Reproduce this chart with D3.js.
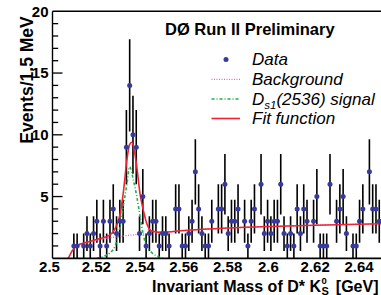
<!DOCTYPE html>
<meta charset="utf-8">
<script src="https://d3js.org/d3.v7.min.js"></script>
<style>
  body{margin:0;background:#fff;}
  text{font-family:"Liberation Sans",Arial,Helvetica,sans-serif;}
</style>
<div id="chart"></div>
<script>
// histogram: 1.5 MeV bins starting at 2.5 GeV
const massStart = 2.5, binWidth = 0.0015;
const counts = [
  0,0,0,0,0,0,1,1,0,1, 2,1,2,3,1,3,1,3,4,2,
  3,3,9,14,10,9,2,5,1,2, 3,3,1,2,2,1,0,4,4,1,
  1,2,3,7,4,2,1,1,3,0, 4,4,6,2,3,3,4,0,3,1,
  3,4,0,6,2,3,2,3,3,6, 2,1,2,1,4,2,4,3,0,3,
  5,1,1,1,6,0,3,4,5,2, 0,1,1,3,4,0,7,4,4,3
];
// curves: [mass, events]
const fitCurve = [
  [2.5072,0],[2.509,0.6],[2.511,1.0],[2.5157,1.3],[2.5217,1.6],[2.5263,1.9],
  [2.5286,2.4],[2.5309,3.6],[2.5324,5.4],[2.534,8.0],[2.5352,9.2],[2.5362,9.4],
  [2.5375,8.6],[2.5385,7.4],[2.540,5.2],[2.5416,3.8],[2.5431,2.8],[2.5454,2.2],
  [2.550,2.1],[2.560,2.25],[2.580,2.45],[2.600,2.58],[2.620,2.68],[2.650,2.8]
];
const bkgCurve = [
  [2.5072,0],[2.510,0.85],[2.515,1.2],[2.520,1.45],[2.530,1.75],[2.540,1.95],
  [2.550,2.1],[2.560,2.25],[2.580,2.45],[2.600,2.58],[2.620,2.68],[2.650,2.8]
];
const sigCurve = [
  [2.5202,0],[2.524,0.2],[2.5263,0.45],[2.5286,1.0],[2.5309,2.6],[2.5324,4.3],
  [2.534,6.0],[2.5352,7.4],[2.537,6.3],[2.5385,5.0],[2.540,3.4],[2.5416,1.8],
  [2.5431,0.95],[2.5454,0.45],[2.5484,0.12],[2.5506,0]
];
const xTicks = [2.5,2.52,2.54,2.56,2.58,2.6,2.62,2.64];
const xTickLabels = ["2.5","2.52","2.54","2.56","2.58","2.6","2.62","2.64"];
const yTicks = [5,10,15,20];
const legendLabels = ["Data","Background","signal","Fit function"];

const W = 381, H = 295;
const x = d3.scaleLinear().domain([2.5,2.65]).range([52.5,380.9]);
const y = d3.scaleLinear().domain([0,20]).range([258.3,11.3]);

const svg = d3.select("#chart").append("svg")
  .attr("width",W).attr("height",H);

svg.append("defs").append("clipPath").attr("id","plot")
  .append("rect").attr("x",52.5).attr("y",11.3).attr("width",330).attr("height",247);

const plot = svg.append("g").attr("clip-path","url(#plot)");

const line = d3.line().x(d=>x(d[0])).y(d=>y(d[1])).curve(d3.curveMonotoneX);

// data points
const bins = counts.map((c,i)=>({m:massStart+(i+0.5)*binWidth, c:c})).filter(d=>d.c>0);
plot.selectAll(".err").data(bins).join("line")
  .attr("x1",d=>x(d.m)).attr("x2",d=>x(d.m))
  .attr("y1",d=>y(Math.max(0,d.c-Math.sqrt(d.c))))
  .attr("y2",d=>y(d.c+Math.sqrt(d.c)))
  .attr("stroke","#000").attr("stroke-width",1.6);

plot.append("path").datum(bkgCurve).attr("d",line)
  .attr("fill","none").attr("stroke","#ff55c8").attr("stroke-width",1.3)
  .attr("stroke-dasharray","1,1.5");
plot.append("path").datum(sigCurve).attr("d",line)
  .attr("fill","none").attr("stroke","#1fb04a").attr("stroke-width",1.6)
  .attr("stroke-dasharray","3,2,1,2");
plot.append("path").datum(fitCurve).attr("d",line)
  .attr("fill","none").attr("stroke","#ee2233").attr("stroke-width",1.6);

plot.selectAll(".pt").data(bins).join("circle")
  .attr("cx",d=>x(d.m)).attr("cy",d=>y(d.c)).attr("r",2.5)
  .attr("fill","#36399e");

// frame
svg.append("line").attr("x1",52.5).attr("x2",W).attr("y1",11.3).attr("y2",11.3)
  .attr("stroke","#000").attr("stroke-width",1.4);

// y axis
const yAxis = svg.append("g");
yAxis.append("line").attr("x1",52.5).attr("x2",52.5).attr("y1",11.3).attr("y2",258.3)
  .attr("stroke","#000").attr("stroke-width",1.4);
yAxis.selectAll(".minor").data(d3.range(1,20)).join("line")
  .attr("x1",52.5).attr("x2",d=>d%5===0?62.5:58.2)
  .attr("y1",d=>y(d)).attr("y2",d=>y(d))
  .attr("stroke","#000").attr("stroke-width",1.3);
yAxis.selectAll(".lab").data(yTicks).join("text")
  .attr("x",48.5).attr("y",d=>y(d)+5.2).attr("text-anchor","end")
  .attr("font-size",15).attr("font-weight","bold").text(d=>d);

// x axis
const xAxis = svg.append("g");
xAxis.append("line").attr("x1",52.5).attr("x2",W).attr("y1",258.3).attr("y2",258.3)
  .attr("stroke","#000").attr("stroke-width",1.8);
xAxis.selectAll(".lab").data(xTicks).join("text")
  .attr("x",(d,i)=>x(d)-(xTickLabels[i].length===3?3:0)).attr("y",271.5).attr("text-anchor","middle")
  .attr("font-size",15).attr("font-weight","bold").text((d,i)=>xTickLabels[i]);

// axis titles
svg.append("text").attr("transform","translate(32.5,80) rotate(-90)")
  .attr("text-anchor","middle").attr("font-size",17.5).attr("font-weight","bold")
  .text("Events/1.5 MeV");

const xt = svg.append("text").attr("x",152).attr("y",291.5)
  .attr("font-size",16).attr("font-weight","bold").text("Invariant Mass of D* K");
const kEnd = 152 + xt.node().getComputedTextLength();
svg.append("text").attr("x",kEnd+0.5).attr("y",283.6).attr("font-size",9.5).attr("font-weight","bold").text("0");
svg.append("text").attr("x",kEnd+0.5).attr("y",294.5).attr("font-size",11).attr("font-weight","bold").text("S");
svg.append("text").attr("x",378.5).attr("y",291.5).attr("text-anchor","end")
  .attr("font-size",16).attr("font-weight","bold").text("[GeV]");

// title and legend
svg.append("text").attr("x",165).attr("y",35).attr("font-size",16.5).attr("font-weight","bold")
  .text("DØ Run II Preliminary");

const legY = [59.5,79.3,99,118.5];
const leg = svg.append("g");
leg.append("circle").attr("cx",226).attr("cy",legY[0]).attr("r",2.5).attr("fill","#36399e");
leg.append("line").attr("x1",211.5).attr("x2",240).attr("y1",legY[1]).attr("y2",legY[1])
  .attr("stroke","#ff55c8").attr("stroke-width",1.3).attr("stroke-dasharray","1,1.5");
leg.append("line").attr("x1",211.5).attr("x2",240).attr("y1",legY[2]).attr("y2",legY[2])
  .attr("stroke","#1fb04a").attr("stroke-width",1.6).attr("stroke-dasharray","3,2,1,2");
leg.append("line").attr("x1",211.5).attr("x2",240).attr("y1",legY[3]).attr("y2",legY[3])
  .attr("stroke","#ee2233").attr("stroke-width",1.6);

const legText = (i)=>leg.append("text").attr("x",252).attr("y",legY[i]+5.5)
  .attr("font-size",17).attr("font-style","italic");
legText(0).text(legendLabels[0]);
legText(1).text(legendLabels[1]);
const ds = legText(2);
ds.append("tspan").text("D");
ds.append("tspan").attr("font-size",11.5).attr("dy",4).text("s1");
ds.append("tspan").attr("dy",-4).text("(2536) " + legendLabels[2]);
legText(3).text(legendLabels[3]);
</script>
